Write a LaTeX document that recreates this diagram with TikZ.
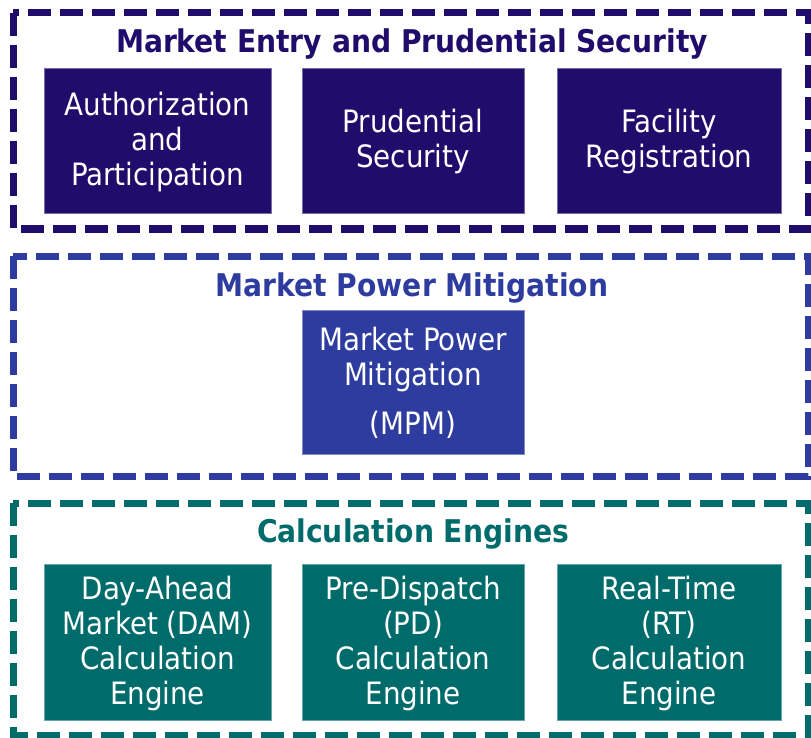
\documentclass[tikz,border=0pt]{standalone}
\usepackage{fontspec}
\setmainfont{DejaVu Sans Condensed}
\definecolor{navy}{HTML}{1F0C6B}
\definecolor{midblue}{HTML}{2E3CA0}
\definecolor{teal}{HTML}{006B6B}
\begin{document}
\begin{tikzpicture}[x=1pt,y=-1pt,
  group/.style={draw=#1, line width=7pt, dash pattern=on 23pt off 9pt},
  title/.style={text=#1, font=\fontsize{31.3}{36}\selectfont\bfseries, anchor=center, inner sep=0pt},
  card/.style={fill=#1, draw=#1!60!white, line width=0.8pt},
  cardtext/.style={text=white, align=center, font=\fontsize{30.8}{35}\selectfont, inner sep=0pt}
]
\useasboundingbox (0,0) rectangle (811,738);
% groups
\draw[group=navy] (13,13) rectangle (808,229);
\draw[group=midblue] (13,256) rectangle (808,476);
\draw[group=teal] (13,503) rectangle (808,735);
% titles
\node[title=navy] (t1) at (412,44) {Market Entry and Prudential Security};
\node[title=midblue] (t2) at (412,288) {Market Power Mitigation};
\node[title=teal] (t3) at (413,534) {Calculation Engines};
% row 1
\path[card=navy] (44,68) rectangle (271,213);
\node[cardtext] (a1) at (157.5,142) {Authorization\\and\\Participation};
\path[card=navy] (302,68) rectangle (524,213);
\node[cardtext] (a2) at (413,142) {Prudential\\Security};
\path[card=navy] (557,68) rectangle (781,213);
\node[cardtext] (a3) at (669,142) {Facility\\Registration};
% row 2
\path[card=midblue] (302,310) rectangle (524,454);
\node[cardtext] (m1) at (413,360) {Market Power\\Mitigation};
\node[cardtext] (m2) at (413,425) {(MPM)};
% row 3
\path[card=teal] (44,564) rectangle (271,720);
\node[cardtext] (c1) at (157.5,643.5) {Day-Ahead\\Market (DAM)\\Calculation\\Engine};
\path[card=teal] (302,564) rectangle (524,720);
\node[cardtext] (c2) at (413,643.5) {Pre-Dispatch\\(PD)\\Calculation\\Engine};
\path[card=teal] (557,564) rectangle (781,720);
\node[cardtext] (c3) at (669,643.5) {Real-Time\\(RT)\\Calculation\\Engine};
\end{tikzpicture}
\end{document}
